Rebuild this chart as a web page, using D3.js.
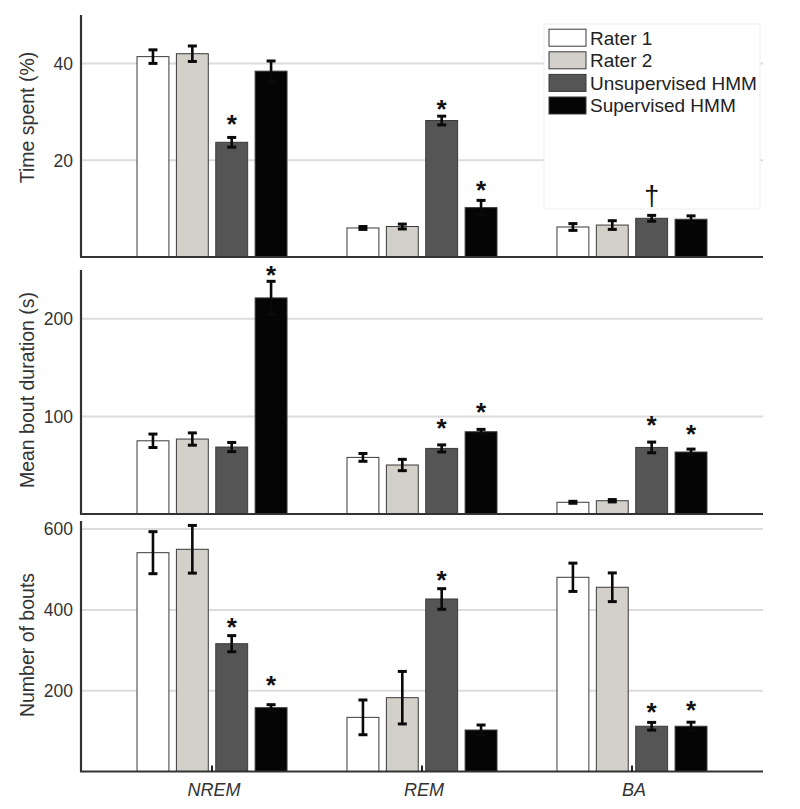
<!DOCTYPE html>
<html>
<head>
<meta charset="utf-8">
<script src="https://cdn.jsdelivr.net/npm/d3@7"></script>
<style>
  html, body { margin: 0; padding: 0; background: #fff; }
  svg { display: block; font-family: "Liberation Sans", Arial, Helvetica, sans-serif; }
</style>
</head>
<body>
<svg id="chart" width="800" height="809"></svg>
<script>
// ---------------- DATA ----------------
const categories = ["NREM", "REM", "BA"];
const series = ["Rater 1", "Rater 2", "Unsupervised HMM", "Supervised HMM"];
const seriesColors = ["#ffffff", "#d3d0c9", "#555555", "#050505"];

// Time spent (%) — values per series, in category order
const timeMean = [
  [41.4, 6.0, 6.2],
  [42.0, 6.3, 6.6],
  [23.7, 28.2, 8.0],
  [38.4, 10.2, 7.8]
];
const timeErr = [
  [1.4, 0.3, 0.7],
  [1.6, 0.5, 0.9],
  [1.0, 0.9, 0.6],
  [2.1, 1.5, 0.7]
];
const timeTicks = [20, 40];
const timeMarkers = [
  { cat: "NREM", s: 2, sym: "*", level: 27.9 },
  { cat: "REM",  s: 2, sym: "*", level: 31.0 },
  { cat: "REM",  s: 3, sym: "*", level: 14.2 },
  { cat: "BA",   s: 2, sym: "†", level: 12.8 }
];

// Mean bout duration (s)
const boutMean = [
  [75.0, 58.0, 12.0],
  [76.8, 50.2, 13.6],
  [68.6, 67.2, 68.2],
  [221.4, 84.3, 63.5]
];
const boutErr = [
  [6.9, 4.0, 1.0],
  [6.3, 5.8, 1.2],
  [4.7, 3.6, 5.5],
  [17.0, 2.4, 3.0]
];
const boutTicks = [100, 200];
const boutMarkers = [
  { cat: "NREM", s: 3, sym: "*", level: 246.7 },
  { cat: "REM",  s: 2, sym: "*", level: 90.4 },
  { cat: "REM",  s: 3, sym: "*", level: 106.4 },
  { cat: "BA",   s: 2, sym: "*", level: 92.8 },
  { cat: "BA",   s: 3, sym: "*", level: 83.6 }
];

// Number of bouts
const numMean = [
  [541.6, 134.0, 480.7],
  [550.0, 182.7, 456.0],
  [316.3, 427.0, 112.0],
  [158.0, 102.7, 112.0]
];
const numErr = [
  [52.0, 43.0, 35.0],
  [59.0, 65.0, 35.5],
  [20.0, 25.5, 9.5],
  [7.4, 12.4, 10.0]
];
const numTicks = [200, 400, 600];
const numMarkers = [
  { cat: "NREM", s: 2, sym: "*", level: 362.6 },
  { cat: "NREM", s: 3, sym: "*", level: 218.0 },
  { cat: "REM",  s: 2, sym: "*", level: 479.7 },
  { cat: "BA",   s: 2, sym: "*", level: 152.0 },
  { cat: "BA",   s: 3, sym: "*", level: 156.0 }
];

// ---------------- LAYOUT ----------------
const svg = d3.select("#chart");
const left = 81, right = 763;
const x0 = d3.scalePoint().domain(categories).range([left, right]).padding(0.624);
const x1 = d3.scaleBand().domain(d3.range(series.length)).range([-75, 75]).paddingInner(0.19).paddingOuter(0);

const panels = [
  { label: "Time spent (%)", mean: timeMean, err: timeErr, ticks: timeTicks, markers: timeMarkers,
    domain: [0, 50], range: [257, 15], labelY: 117.5, legend: true, xticks: false },
  { label: "Mean bout duration (s)", mean: boutMean, err: boutErr, ticks: boutTicks, markers: boutMarkers,
    domain: [0, 250], range: [514, 270], labelY: 390, legend: false, xticks: false },
  { label: "Number of bouts", mean: numMean, err: numErr, ticks: numTicks, markers: numMarkers,
    domain: [0, 620], range: [771.5, 521], labelY: 645, legend: false, xticks: true }
];

panels.forEach(p => {
  const y = d3.scaleLinear().domain(p.domain).range(p.range);
  const g = svg.append("g");

  // gridlines
  g.selectAll("line.grid").data(p.ticks).join("line")
    .attr("x1", left).attr("x2", right)
    .attr("y1", d => y(d)).attr("y2", d => y(d))
    .attr("stroke", "#dcdcdc").attr("stroke-width", 2);

  // legend background (covers gridlines)
  if (p.legend) {
    g.append("rect").attr("x", 544).attr("y", 24).attr("width", 216).attr("height", 185)
      .attr("fill", "#fff").attr("stroke", "#eeeeee").attr("stroke-width", 1);
  }

  // tick labels
  g.selectAll("text.tick").data(p.ticks).join("text")
    .attr("x", 73).attr("y", d => y(d)).attr("dy", "0.36em")
    .attr("text-anchor", "end").attr("font-size", 17.5).attr("fill", "#333")
    .text(d => d);

  // y label
  g.append("text")
    .attr("transform", `translate(33.5,${p.labelY}) rotate(-90)`)
    .attr("text-anchor", "middle").attr("font-size", 19.5).attr("fill", "#333")
    .text(p.label);

  // bars
  const barData = [];
  series.forEach((s, si) => categories.forEach((c, ci) => {
    barData.push({ si, c, v: p.mean[si][ci], e: p.err[si][ci] });
  }));
  const bx = d => x0(d.c) + x1(d.si);
  const bw = x1.bandwidth();

  g.selectAll("rect.bar").data(barData).join("rect")
    .attr("x", bx).attr("width", bw)
    .attr("y", d => y(d.v)).attr("height", d => y(0) - y(d.v))
    .attr("fill", d => seriesColors[d.si])
    .attr("stroke", "#3a3a3a").attr("stroke-width", 1);

  // error bars
  const eg = g.selectAll("g.err").data(barData).join("g").attr("stroke", "#0a0a0a");
  eg.append("line")
    .attr("x1", d => bx(d) + bw / 2).attr("x2", d => bx(d) + bw / 2)
    .attr("y1", d => y(d.v + d.e)).attr("y2", d => y(d.v - d.e))
    .attr("stroke-width", 2.6);
  [1, -1].forEach(sign => {
    eg.append("line")
      .attr("x1", d => bx(d) + bw / 2 - 4.5).attr("x2", d => bx(d) + bw / 2 + 4.5)
      .attr("y1", d => y(d.v + sign * d.e)).attr("y2", d => y(d.v + sign * d.e))
      .attr("stroke-width", 3);
  });

  // significance markers
  g.selectAll("text.mark").data(p.markers).join("text")
    .attr("x", d => x0(d.cat) + x1(d.s) + bw / 2)
    .attr("y", d => y(d.level) + (d.sym === "*" ? 11 : 10))
    .attr("text-anchor", "middle")
    .attr("font-size", d => d.sym === "*" ? 26 : 27)
    .attr("font-weight", d => d.sym === "*" ? "bold" : "normal")
    .attr("fill", "#111")
    .text(d => d.sym);

  // axes
  g.append("line").attr("x1", left).attr("x2", left)
    .attr("y1", p.range[1]).attr("y2", y(0))
    .attr("stroke", "#333").attr("stroke-width", 2.2);
  g.append("line").attr("x1", left - 1).attr("x2", right)
    .attr("y1", y(0)).attr("y2", y(0))
    .attr("stroke", "#333").attr("stroke-width", 2.2);

  if (p.xticks) {
    g.selectAll("line.xt").data(categories).join("line")
      .attr("x1", d => x0(d)).attr("x2", d => x0(d))
      .attr("y1", y(0)).attr("y2", y(0) - 6)
      .attr("stroke", "#222").attr("stroke-width", 2);
    g.selectAll("text.xl").data(categories).join("text")
      .attr("x", d => x0(d) + 2).attr("y", 796)
      .attr("text-anchor", "middle").attr("font-style", "italic")
      .attr("font-size", 18).attr("fill", "#333")
      .text(d => d);
  }

  // legend items
  if (p.legend) {
    const lg = g.append("g");
    series.forEach((s, i) => {
      const cy = 37.7 + i * 22.6;
      lg.append("rect").attr("x", 549).attr("y", cy - 8.5).attr("width", 37).attr("height", 17)
        .attr("fill", seriesColors[i]).attr("stroke", "#3a3a3a").attr("stroke-width", 1);
      lg.append("text").attr("x", 590).attr("y", cy).attr("dy", "0.36em")
        .attr("font-size", 19).attr("fill", "#222").text(s);
    });
  }
});
</script>
</body>
</html>
